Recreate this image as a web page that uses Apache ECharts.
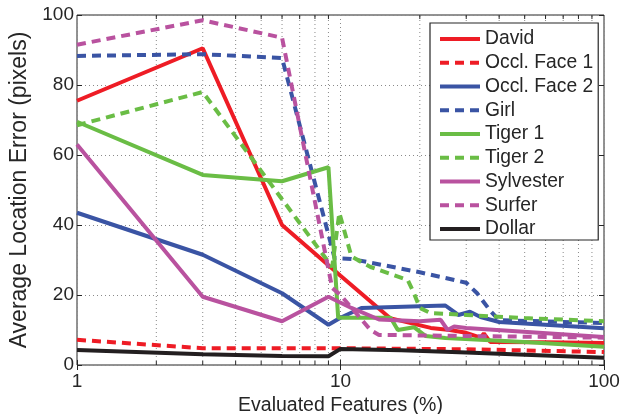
<!DOCTYPE html>
<html>
<head>
<meta charset="utf-8">
<script src="https://cdn.jsdelivr.net/npm/echarts@6/dist/echarts.min.js"></script>
<style>
  html, body { margin: 0; padding: 0; background: #fff; }
  #chart { width: 630px; height: 414px; }
</style>
</head>
<body>
<div id="chart"></div>
<script>
// values, [evaluated features %, error px]
const names = ['David', 'Occl. Face 1', 'Occl. Face 2', 'Girl', 'Tiger 1', 'Tiger 2', 'Sylvester', 'Surfer', 'Dollar'];
const david = [[1, 75.5], [3, 90.5], [6, 40], [10, 25.5], [15.4, 13.4], [22, 10.6], [26, 10], [30, 9.2], [34, 7.8], [35, 9], [37, 6.6], [60, 6.5], [100, 6.3]];
const occlFace1 = [[1, 7.2], [3, 4.8], [10, 4.8], [30, 4.5], [100, 3.7]];
const occlFace2 = [[1, 43.5], [3, 31.5], [6, 20.5], [9, 11.5], [10, 13.5], [12, 16.3], [25, 17], [28, 14.3], [31, 15.2], [34, 13.7], [40, 12.3], [100, 10.5]];
const girl = [[1, 88.3], [3, 88.8], [6, 87.7], [9.5, 30.5], [11, 30.3], [20, 26.5], [30, 23.5], [33, 20.5], [37, 15.5], [40, 12.8], [100, 12]];
const tiger1 = [[1, 69.5], [3, 54.3], [6, 52.5], [9, 56.5], [9.8, 13.5], [15.5, 13.5], [16.5, 10], [19, 10.8], [21, 8.3], [25, 7.7], [50, 6.6], [100, 5.2]];
const tiger2 = [[1, 68.5], [3, 78], [9.3, 28], [9.9, 43.5], [11, 31], [13, 28], [18, 24.3], [19, 20.5], [20, 16.3], [22, 14.8], [30, 14.3], [50, 13.4], [100, 12.5]];
const sylvester = [[1, 63], [3, 19.5], [6, 12.5], [9, 19.5], [11, 16.3], [14, 13], [20, 12.5], [24, 12.9], [25.5, 10], [27, 11], [30, 10.6], [100, 8]];
const surfer = [[1, 91.5], [3, 98.5], [6, 93.5], [9.3, 22], [10, 20], [13, 10], [14, 8.6], [100, 7.8]];
const dollar = [[1, 4.3], [3, 3.1], [6, 2.6], [9, 2.5], [10, 4.6], [17, 4.2], [30, 3.6], [100, 2.1]];
const allData = [david, occlFace1, occlFace2, girl, tiger1, tiger2, sylvester, surfer, dollar];

const yTicks = [0, 20, 40, 60, 80, 100];
const minorTicks = [2, 3, 4, 5, 6, 7, 8, 9, 20, 30, 40, 50, 60, 70, 80, 90];

const red = '#ee1c25', blue = '#3a54a4', green = '#6abd45', magenta = '#b9529f', black = '#231f20';
const colors = [red, red, blue, blue, green, green, magenta, magenta, black];
const dashed = [false, true, false, true, false, true, false, true, false];

const font = '"Liberation Sans", Arial, Helvetica, sans-serif';
const ink = '#262626';
const gridStyle = { color: '#8a8a8a', width: 1, type: [1, 3] };

const chart = echarts.init(document.getElementById('chart'));

const lineSeries = names.map((name, i) => ({
  name: name,
  type: 'line',
  data: allData[i],
  symbol: 'none',
  color: colors[i],
  lineStyle: { color: colors[i], width: 4, type: dashed[i] ? [9, 6] : 'solid' },
  z: 3
}));

// minor log grid lines + inner minor ticks at bottom/top
const minorSeries = {
  name: 'minor',
  type: 'custom',
  silent: true,
  z: 1,
  data: minorTicks.map(v => [v, 0]),
  encode: { x: 0, y: 1 },
  renderItem: function (params, api) {
    const x = api.value(0);
    const b = api.coord([x, yTicks[0]]);
    const t = api.coord([x, yTicks[yTicks.length - 1]]);
    return {
      type: 'group',
      children: [
        { type: 'line', shape: { x1: b[0], y1: b[1], x2: t[0], y2: t[1] },
          style: { stroke: gridStyle.color, lineWidth: 1, lineDash: [1, 3] } },
        { type: 'line', shape: { x1: b[0], y1: b[1], x2: b[0], y2: b[1] - 4 },
          style: { stroke: ink, lineWidth: 1 } },
        { type: 'line', shape: { x1: t[0], y1: t[1], x2: t[0], y2: t[1] + 4 },
          style: { stroke: ink, lineWidth: 1 } }
      ]
    };
  }
};

const tickStyle = { show: true, inside: true, length: 5, lineStyle: { color: ink } };

const option = {
  animation: false,
  backgroundColor: '#fff',
  textStyle: { fontFamily: font },
  grid: {
    left: 77, right: 26, top: 15, bottom: 49,
    outerBoundsMode: 'none',
    containLabel: false,
    show: true, borderColor: ink, borderWidth: 1, backgroundColor: 'transparent'
  },
  legend: {
    data: names,
    orient: 'vertical',
    left: 430,
    top: 23,
    padding: [6, 5, 1, 8],
    itemWidth: 40,
    itemHeight: 12,
    itemGap: 3.75,
    backgroundColor: '#fff',
    borderColor: ink,
    borderWidth: 1.2,
    borderRadius: 0,
    itemStyle: { opacity: 0 },
    lineStyle: { width: 4 },
    textStyle: { fontFamily: font, fontSize: 19.3, lineHeight: 20, color: ink }
  },
  xAxis: [{
    type: 'log',
    logBase: 10,
    min: 1,
    max: 100,
    name: 'Evaluated Features (%)',
    nameLocation: 'middle',
    nameGap: 24,
    nameTextStyle: { fontFamily: font, fontSize: 19.5, color: ink },
    axisLine: { show: false },
    axisTick: tickStyle,
    axisLabel: { fontFamily: font, fontSize: 19, color: ink, margin: 7 },
    splitLine: { show: true, lineStyle: gridStyle }
  }, {
    type: 'log',
    logBase: 10,
    min: 1,
    max: 100,
    position: 'top',
    axisLine: { show: false },
    axisTick: tickStyle,
    axisLabel: { show: false },
    splitLine: { show: false }
  }],
  yAxis: [{
    type: 'value',
    min: 0,
    max: 100,
    interval: 20,
    name: 'Average Location Error (pixels)',
    nameLocation: 'middle',
    nameGap: 44,
    nameTextStyle: { fontFamily: font, fontSize: 23, color: ink },
    axisLine: { show: false },
    axisTick: tickStyle,
    axisLabel: { fontFamily: font, fontSize: 19, color: ink, margin: 3 },
    splitLine: { show: true, lineStyle: gridStyle }
  }, {
    type: 'value',
    min: 0,
    max: 100,
    interval: 20,
    position: 'right',
    axisLine: { show: false },
    axisTick: tickStyle,
    axisLabel: { show: false },
    splitLine: { show: false }
  }],
  series: [minorSeries].concat(lineSeries)
};

chart.setOption(option);
</script>
</body>
</html>
